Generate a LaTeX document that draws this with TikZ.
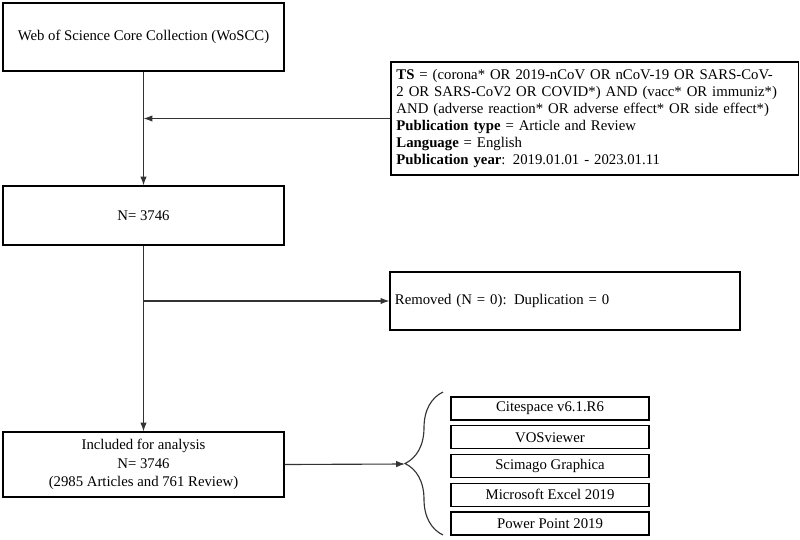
\documentclass[tikz,border=0pt]{standalone}
\usepackage{fontspec}
\setmainfont{Liberation Serif}
\usetikzlibrary{arrows.meta,positioning,decorations.pathreplacing}

\tikzset{
  flowbox/.style={draw,thick,minimum width=7.025cm,align=center,font=\fontsize{10.5}{13}\selectfont},
  toolbox/.style={draw,thick,minimum width=4.95cm,minimum height=0.575cm,inner sep=0pt,font=\fontsize{10.5}{12}\selectfont},
  flowarrow/.style={-{Latex[length=2.2mm,width=1.6mm]},thick,draw=black!80}
}

\begin{document}
\begin{tikzpicture}[x=0.025cm,y=-0.025cm]
\useasboundingbox (0,0) rectangle (800,539);
% left column
\node[flowbox,minimum height=1.7cm] (src) at (143.5,37) {Web of Science Core Collection (WoSCC)};
\node[flowbox,minimum height=1.475cm] (total) at (143.5,215.5) {N= 3746};
\node[flowbox,minimum height=1.625cm] (incl) at (143.5,464.5) {Included for analysis\\N= 3746\\(2985 Articles and 761 Review)};
% search query
\node[draw,thick,minimum width=10.175cm,minimum height=2.825cm,text width=9.9cm,align=left,font=\fontsize{10.5}{12.2}\selectfont] (query) at (594.5,118.5)
  {\textbf{TS} = (corona* OR 2019-nCoV OR nCoV-19 OR SARS-CoV-2 OR SARS-CoV2 OR COVID*) AND (vacc* OR immuniz*) AND (adverse reaction* OR adverse effect* OR side effect*)\\
   \textbf{Publication type} = Article and Review\\
   \textbf{Language} = English\\
   \textbf{Publication year}: 2019.01.01 - 2023.01.11};
\node[draw,thick,minimum width=8.75cm,minimum height=1.45cm,text width=8.5cm,align=left,font=\fontsize{10.5}{13}\selectfont] (removed) at (565,301) {Removed (N = 0): Duplication = 0};
% tools
\foreach \t [count=\n] in {Citespace v6.1.R6,VOSviewer,Scimago Graphica,Microsoft Excel 2019,Power Point 2019}
  \node[toolbox] (T\n) at (550,{408.5+(\n-1)*28.75}) {\t};
\draw[thick,draw=black!80,decorate,decoration={brace,amplitude=0.95cm}] (443,535) -- (443,392);
\coordinate (tip) at (405,464);

\coordinate (j1) at (src.south |- query.west);
\coordinate (j2) at (total.south |- removed.west);
\draw[flowarrow] (src.south) -- (total.north);
\draw[flowarrow] (query.west) -- (j1);
\draw[flowarrow] (total.south) -- (incl.north);
\draw[flowarrow] (j2) -- (removed.west);
\draw[flowarrow] (incl.east) -- (tip);
\end{tikzpicture}
\end{document}
